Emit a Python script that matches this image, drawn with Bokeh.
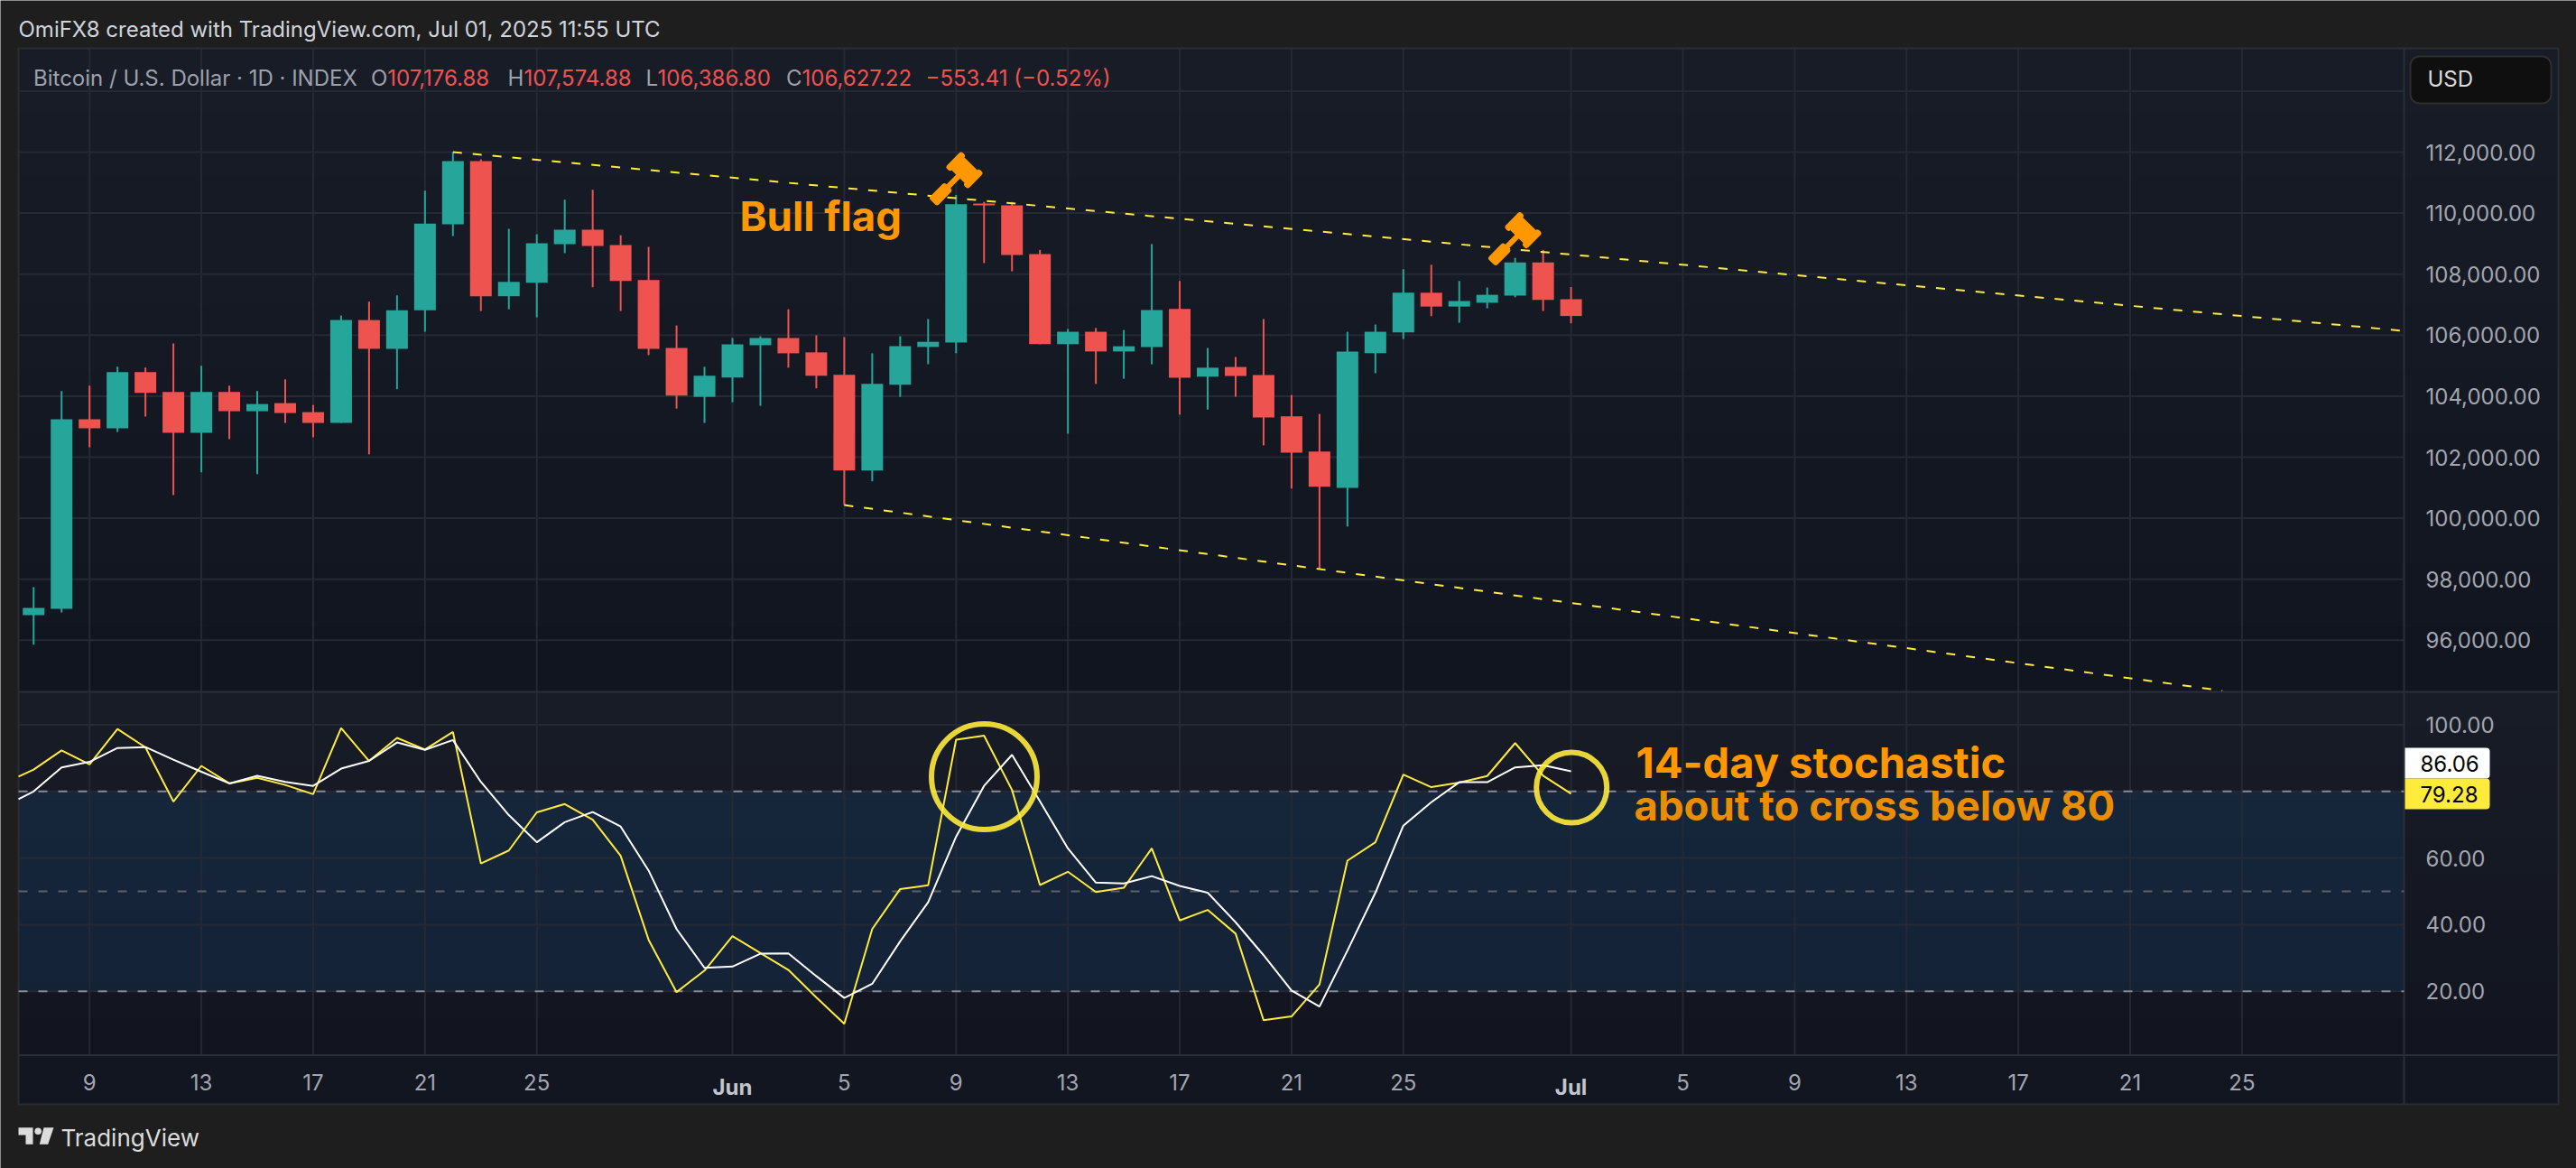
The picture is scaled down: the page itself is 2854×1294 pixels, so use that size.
from bokeh.embed import file_html
from bokeh.resources import INLINE
from bokeh.plotting import figure
from bokeh.models import Range1d, LinearAxis, FixedTicker, NumeralTickFormatter, Label

# ---------- data ----------
first_day = -2  # May 7, day numbers count from May 9
opens = [96823,97029,103241,102947,104787,104139,102800,104139,103506,103771,103477,103123,106494,105552,106818,109630,111705,107275,107716,108982,109453,108953,107804,105582,103977,
         104610,105670,105906,105435,104699,101563,104375,105613,105760,110310,110254,108658,105703,106111,105465,105613,106858,104639,104956,104696,103337,102183,100994,105409,106088,107390,106937,107062,107299,108386,107176.88]
highs = [97736,104169,104345,104963,104934,105729,104993,104345,104169,104551,103712,106642,107098,107304,110734,112000,111764,109483,109306,110439,110763,109276,108894,106318,104963,
         105906,105964,106848,105994,105935,105405,105964,106529,110593,110367,110367,108793,106201,106235,106167,108986,107775,105579,105284,106529,104039,103416,106111,106348,108160,108307,107775,107560,108533,108793,107574.88]
lows = [95852,96912,102329,102829,103330,100754,101504,102594,101445,103123,102652,103123,102093,104227,106112,109247,106789,106848,106583,108688,107569,106789,105346,103595,103123,
        103801,103683,104934,104257,100430,101210,103977,105047,105409,108363,108092,105703,102771,104401,104571,105047,103394,103564,103982,102386,100971,98334,99726,104752,105873,106620,106405,106880,107243,106790,106386.80]
closes = [97059,103241,102947,104787,104110,102800,104139,103506,103742,103447,103123,106494,105552,106818,109659,111705,107275,107746,109011,109453,108923,107775,105552,104021,104669,
          105699,105906,105405,104669,101563,104404,105641,105782,110288,110254,108624,105703,106111,105465,105635,106824,104605,104933,104662,103303,102149,101028,105465,106111,107390,106937,107118,107322,108386,107152,106627.22]

stoch_first_day = -3  # May 6
stoch_k = [82.68,86.56,92.29,88.13,98.76,93.22,76.95,87.67,82.40,84.07,81.94,79.17,99.04,89.15,96.08,92.57,97.84,58.37,62.26,73.72,76.21,71.50,60.68,35.45,19.74,26.21,
           36.56,31.48,26.40,18.17,10.22,38.69,50.70,51.81,95.53,96.73,80.46,51.90,55.88,49.78,51.07,62.90,41.27,44.42,37.30,11.33,12.44,22.05,59.21,64.75,85.08,81.29,82.68,84.62,94.51,84.71,79.28]
stoch_d = [75.75,80.00,87.21,88.87,93.03,93.31,89.52,85.91,82.40,84.71,82.87,81.66,86.84,89.15,94.70,92.48,95.43,82.87,72.88,64.75,70.76,73.81,69.46,56.25,38.69,27.04,
           27.41,31.29,31.39,24.55,17.99,22.24,34.99,46.73,66.41,81.66,91.00,77.04,62.90,52.64,52.37,54.58,51.63,49.59,40.72,30.83,20.20,15.40,32.22,49.59,69.74,76.77,82.77,82.77,87.21,87.86,86.06]

day_ticks = {0:"9",4:"13",8:"17",12:"21",16:"25",27:"5",31:"9",35:"13",39:"17",43:"21",47:"25",57:"5",61:"9",65:"13",69:"17",73:"21",77:"25"}
month_ticks = {23:"Jun",53:"Jul"}
price_ticks = [96000,98000,100000,102000,104000,106000,108000,110000,112000]
price_grid_extra = [114000]
stoch_ticks = [100,60,40,20]
stoch_grid = [100,80,60,40,20]
stoch_levels_bright = [80,20]
stoch_level_mid = [50]

upper_days = [13,82.8]
upper_prices = [112000,106140]
lower_days = [27,76.3]
lower_prices = [100430,94347]

# ---------- layout in page pixels ----------
W, H = 2854, 1294
L, R, T, B = 20.0, 2834.0, 53.0, 1223.0
AX_X = 2663.0
PANE_Y = 766.0
TIME_Y = 1168.6
DAY_PX = 30.97
X0 = 98.7
P_PX = 0.0338
P0_Y = 168.0
S_PX = 3.69
S0_Y = 802.5

def xd(px): return (px - X0) / DAY_PX
def pr(py): return 112000 - (py - P0_Y) / P_PX
def st(py): return 100 - (py - S0_Y) / S_PX

p = figure(width=W, height=H, output_backend="svg", toolbar_location=None,
           x_range=Range1d(xd(0), xd(W)), y_range=Range1d(pr(H), pr(0)),
           min_border=0, x_axis_type=None, y_axis_type=None,
           background_fill_color="#1e1e1e", border_fill_color="#1e1e1e", outline_line_color=None)
p.grid.visible = False
p.extra_y_ranges = {"stoch": Range1d(st(H), st(0))}

# gradient backgrounds
def gradient(top, bottom, c0, c1, n=10):
    for i in range(n):
        f = i / (n - 1)
        c = tuple(int(round(a + (b - a) * f)) for a, b in zip(c0, c1))
        y0 = top + (bottom - top) * i / n
        p.quad(left=[xd(L)], right=[xd(R)], top=[pr(y0)], bottom=[pr(bottom)], fill_color="#%02x%02x%02x" % c,
               line_color=None, level="image")
gradient(T, PANE_Y, (24,28,39), (17,21,31))
gradient(PANE_Y, TIME_Y, (24,28,39), (18,21,32))
p.quad(left=[xd(L)], right=[xd(R)], top=[pr(TIME_Y)], bottom=[pr(B)], fill_color="#121620", line_color=None, level="image")

# stochastic band
p.quad(left=[xd(L)], right=[xd(AX_X)], top=[80], bottom=[20], y_range_name="stoch", fill_color="#2196f3",
       fill_alpha=0.1, line_color=None, level="image")

# grid
GRID = "#252934"
vx = sorted(list(day_ticks) + list(month_ticks))
p.segment(x0=vx, x1=vx, y0=[pr(T)]*len(vx), y1=[pr(TIME_Y)]*len(vx), line_color=GRID, line_width=2, level="underlay")
hp = price_ticks + price_grid_extra
p.segment(x0=[xd(L)]*len(hp), x1=[xd(AX_X)]*len(hp), y0=hp, y1=hp, line_color=GRID, line_width=2, level="underlay")
p.segment(x0=[xd(L)]*len(stoch_grid), x1=[xd(AX_X)]*len(stoch_grid), y0=stoch_grid, y1=stoch_grid, y_range_name="stoch",
          line_color=GRID, line_width=2, level="underlay")

# pane separators and card outline
SEP = "#2a2e39"
p.segment(x0=[xd(L), xd(L)], x1=[xd(R), xd(R)], y0=[pr(PANE_Y), pr(TIME_Y)], y1=[pr(PANE_Y), pr(TIME_Y)],
          line_color=SEP, line_width=2, level="underlay")
p.segment(x0=[xd(AX_X)], x1=[xd(AX_X)], y0=[pr(T)], y1=[pr(B)], line_color=SEP, line_width=2, level="underlay")
p.quad(left=[xd(L)], right=[xd(R)], top=[pr(T)], bottom=[pr(B)], fill_alpha=0, line_color="#2c2d30", line_width=2, level="underlay")

# candles
days = [first_day + i for i in range(len(opens))]
UP, DOWN = "#26a69a", "#ef5350"
colors = [UP if c >= o else DOWN for o, c in zip(opens, closes)]
p.segment(x0=days, x1=days, y0=lows, y1=highs, line_color=colors, line_width=2)
p.vbar(x=days, width=24/DAY_PX, top=[max(o, c) for o, c in zip(opens, closes)],
       bottom=[min(o, c) for o, c in zip(opens, closes)], fill_color=colors, line_color=None)

# trend channel
YEL = "#ffeb3b"
p.line(upper_days, upper_prices, line_color=YEL, line_width=2, line_dash=[10,12])
p.line(lower_days, lower_prices, line_color=YEL, line_width=2, line_dash=[10,12])

# stochastic levels
for lv in stoch_levels_bright:
    p.line([xd(L), xd(AX_X)], [lv, lv], y_range_name="stoch", line_color="#878a94", line_width=2, line_dash=[10,12])
for lv in stoch_level_mid:
    p.line([xd(L), xd(AX_X)], [lv, lv], y_range_name="stoch", line_color="#5b606c", line_width=2, line_dash=[10,12])

# stochastic lines: clip the part left of the card by starting on the visible segment
sd = [stoch_first_day + i for i in range(len(stoch_k))]
def clipped(xs, ys):
    f = (xd(L) - xs[0]) / (xs[1] - xs[0])
    return [xd(L)] + xs[1:], [ys[0] + (ys[1] - ys[0]) * f] + ys[1:]
kx, ky = clipped(sd, stoch_k)
dx, dy = clipped(sd, stoch_d)
p.line(kx, ky, y_range_name="stoch", line_color=YEL, line_width=2)
p.line(dx, dy, y_range_name="stoch", line_color="#ffffff", line_width=2)

# circles
p.scatter([xd(1090), xd(1740.7)], [st(860), st(872)], y_range_name="stoch", marker="circle", size=[117, 78],
          fill_alpha=0, line_color=YEL, line_alpha=0.9, line_width=6)

# gavels
HEAD = [(-14.5,-9.5),(-13,-9.5),(-13,-7),(13,-7),(13,-9.5),(14.5,-9.5),(14.5,9.5),(13,9.5),(13,7),(-13,7),(-13,9.5),(-14.5,9.5)]
STICK = [(-2,8),(2,8),(2,28),(-2,28)]
GRIP = [(-3.5,28.2),(3.5,28.2),(3.5,47),(-3.5,47)]
def place(cx, cy, shape):
    xs, ys = [], []
    for u, v in shape:
        xs.append(xd(cx + u*0.71 - v*0.70))
        ys.append(pr(cy + u*0.70 + v*0.71))
    return xs, ys
for cx, cy in ((1068,188),(1687,254.6)):
    for shape, lw in ((HEAD, 6), (STICK, 2), (GRIP, 6)):
        xs, ys = place(cx, cy, shape)
        p.patch(xs, ys, fill_color="#ff9800", line_color="#ff9800", line_width=lw, line_join="round")

# axes
FONT = "Inter"
def style(ax, color="#a3a6af", size="24px", style_="normal"):
    ax.major_tick_line_color = None
    ax.minor_tick_line_color = None
    ax.axis_line_color = None
    ax.major_label_text_color = color
    ax.major_label_text_font = FONT
    ax.major_label_text_font_size = size
    ax.major_label_text_font_style = style_

pa = LinearAxis(ticker=FixedTicker(ticks=price_ticks), formatter=NumeralTickFormatter(format="0,0.00"),
                fixed_location=xd(AX_X), major_label_standoff=18)
style(pa)
p.add_layout(pa, "right")
sa = LinearAxis(ticker=FixedTicker(ticks=stoch_ticks), formatter=NumeralTickFormatter(format="0.00"),
                y_range_name="stoch", fixed_location=xd(AX_X), major_label_standoff=18)
style(sa)
p.add_layout(sa, "right")

ta = LinearAxis(ticker=FixedTicker(ticks=list(day_ticks)), major_label_overrides=day_ticks,
                fixed_location=pr(TIME_Y), major_label_standoff=15)
style(ta)
p.add_layout(ta, "below")
ma = LinearAxis(ticker=FixedTicker(ticks=list(month_ticks)), major_label_overrides=month_ticks,
                fixed_location=pr(TIME_Y), major_label_standoff=15)
style(ma, color="#c3c5cb", style_="bold")
p.add_layout(ma, "below")

# texts
def label(px, py, text, color, size, style_="normal", align="left", font=FONT, alpha=1.0):
    p.add_layout(Label(x=xd(px), y=pr(py), text=text, text_color=color, text_font=font, text_font_size=f"{size}px",
                       text_font_style=style_, text_align=align, text_baseline="middle", text_alpha=alpha))

label(20, 32, "OmiFX8 created with TradingView.com, Jul 01, 2025 11:55 UTC", "#d1d4dc", 24)
GR, RD = "#9ea1ab", "#ef5350"
label(36.5, 85.6, "Bitcoin / U.S. Dollar \u00b7 1D \u00b7 INDEX", GR, 24)
label(410.5, 85.6, "O", GR, 24)
label(428.7, 85.6, "107,176.88", RD, 24)
label(562, 85.6, "H", GR, 24)
label(580, 85.6, "107,574.88", RD, 24)
label(715, 85.6, "L", GR, 24)
label(728, 85.6, "106,386.80", RD, 24)
label(870.6, 85.6, "C", GR, 24)
label(888, 85.6, "106,627.22", RD, 24)
label(1025, 85.6, "\u2212553.41 (\u22120.52%)", RD, 24)

label(819, 239, "Bull flag", "#ff9800", 45.5, "bold")
label(1812, 844, "14-day stochastic", "#ff9800", 47, "bold")
label(1810, 892, "about to cross below 80", "#ff9800", 45.5, "bold", alpha=0.92)

# USD selector
p.quad(left=[xd(2670)], right=[xd(2826)], top=[pr(62)], bottom=[pr(114)], fill_color="#0f0f0f", line_color="#2e2e2e",
       line_width=2, border_radius=10, level="underlay")
label(2689, 87, "USD", "#dbdbdb", 24)

# last value tags
p.quad(left=[xd(2664)], right=[xd(2758)], top=[pr(828)], bottom=[pr(862)], fill_color="#ffffff", line_color=None, border_radius=(0,4,4,0))
p.quad(left=[xd(2664)], right=[xd(2758)], top=[pr(862)], bottom=[pr(896)], fill_color=YEL, line_color=None, border_radius=(0,4,4,0))
label(2681, 845, f"{stoch_d[-1]:.2f}", "#000000", 24)
label(2681, 879, f"{stoch_k[-1]:.2f}", "#000000", 24)

# footer logo
LOGO = "#dcdcdc"
for xs, ys in (([20,36,36,28,28,20],[1248.7,1248.7,1267.3,1267.3,1257,1257]),
               ([48,59,52.7,43.3],[1248.7,1248.7,1267.3,1267.3])):
    p.patch([xd(v) for v in xs], [pr(v) for v in ys], fill_color=LOGO, line_color=None)
p.scatter([xd(41.7)], [pr(1252.7)], marker="circle", size=7.6, fill_color=LOGO, line_color=None)
label(67, 1259.5, "TradingView", LOGO, 26)

open("out.html", "w").write(file_html(p, INLINE))
